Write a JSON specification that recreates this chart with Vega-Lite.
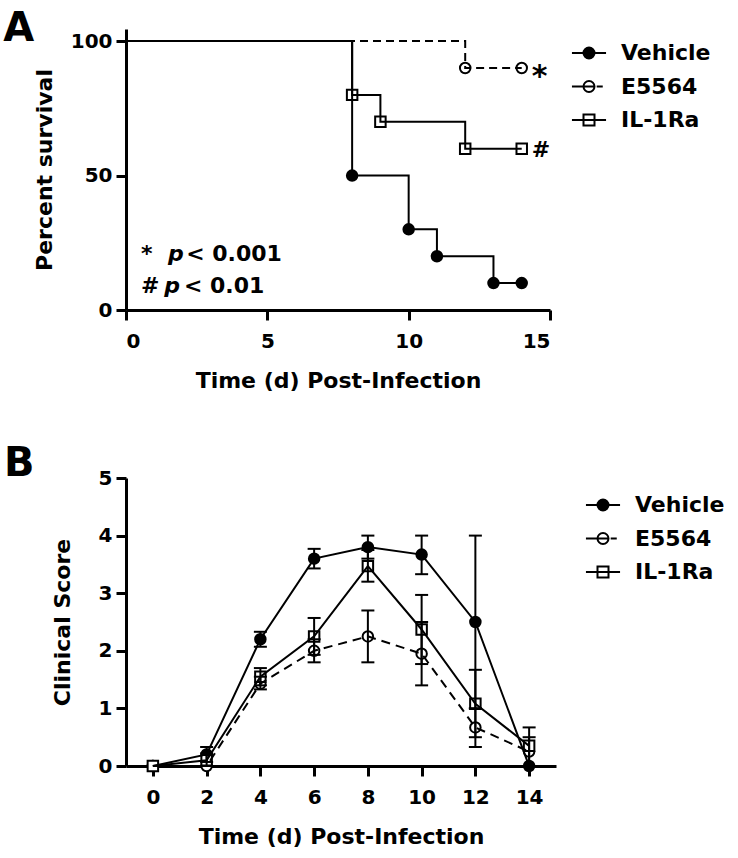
{
  "$schema": "https://vega.github.io/schema/vega-lite/v6.json",
  "background": "white",
  "padding": {"left": 3, "top": 9, "right": 5, "bottom": 5},
  "config": {
    "view": {"stroke": null},
    "font": "DejaVu Sans",
    "axis": {
      "grid": false,
      "domainColor": "black",
      "domainWidth": 3,
      "tickColor": "black",
      "tickWidth": 3,
      "tickSize": 10,
      "labelFont": "DejaVu Sans",
      "labelFontWeight": "bold",
      "labelFontSize": 20,
      "labelColor": "black",
      "labelPadding": 4,
      "titleFont": "DejaVu Sans",
      "titleFontWeight": "bold",
      "titleFontSize": 22,
      "titleColor": "black"
    },
    "axisX": {"labelPadding": 11, "titlePadding": 19},
    "legend": {
      "title": null,
      "orient": "none",
      "padding": 0,
      "symbolSize": 121,
      "symbolStrokeColor": "black",
      "symbolStrokeWidth": 2,
      "symbolOpacity": 1,
      "labelFont": "DejaVu Sans",
      "labelFontWeight": "bold",
      "labelFontSize": 22,
      "labelColor": "black",
      "labelOffset": 21,
      "rowPadding": 11.5
    },
    "title": {"font": "DejaVu Sans", "fontWeight": "bold", "fontSize": 40, "color": "black", "anchor": "start", "frame": "bounds", "offset": 0}
  },
  "spacing": 53,
  "resolve": {
    "scale": {"shape": "independent", "fill": "independent", "stroke": "independent"},
    "legend": {"shape": "independent", "fill": "independent", "stroke": "independent"}
  },
  "vconcat": [
    {
      "width": 424,
      "height": 281,
      "title": {"text": "A", "dx": -30, "dy": 24},
      "data": {"values": [
        {"series": "Vehicle", "t": 0, "s": 100},
        {"series": "Vehicle", "t": 8, "s": 50},
        {"series": "Vehicle", "t": 10, "s": 30},
        {"series": "Vehicle", "t": 11, "s": 20},
        {"series": "Vehicle", "t": 13, "s": 10},
        {"series": "Vehicle", "t": 14, "s": 10},
        {"series": "E5564", "t": 0, "s": 100},
        {"series": "E5564", "t": 12, "s": 90},
        {"series": "E5564", "t": 14, "s": 90},
        {"series": "IL-1Ra", "t": 0, "s": 100},
        {"series": "IL-1Ra", "t": 8, "s": 80},
        {"series": "IL-1Ra", "t": 9, "s": 70},
        {"series": "IL-1Ra", "t": 12, "s": 60},
        {"series": "IL-1Ra", "t": 14, "s": 60}
      ]},
      "encoding": {
        "x": {"field": "t", "type": "quantitative", "scale": {"domain": [0, 15], "nice": false}, "axis": {"values": [0, 5, 10, 15], "format": "d", "title": "Time (d) Post-Infection"}},
        "y": {"field": "s", "type": "quantitative", "scale": {"domain": [0, 104.5], "nice": false}, "axis": {"values": [0, 50, 100], "format": "d", "title": "Percent survival", "titlePadding": 14}}
      },
      "layer": [
        {
          "transform": [{"filter": "datum.t > 0 && datum.series === 'Vehicle'"}],
          "mark": {"type": "point", "shape": "circle", "filled": true, "size": 110, "fill": "black", "stroke": "black", "strokeWidth": 2, "opacity": 1}
        },
        {
          "transform": [{"filter": "datum.t > 0 && datum.series === 'E5564'"}],
          "mark": {"type": "point", "shape": "circle", "filled": true, "size": 110, "fill": "white", "stroke": "black", "strokeWidth": 2, "opacity": 1}
        },
        {
          "transform": [{"filter": "datum.t > 0 && datum.series === 'IL-1Ra'"}],
          "mark": {"type": "point", "shape": "square", "filled": true, "size": 110, "fill": "white", "stroke": "black", "strokeWidth": 2, "opacity": 1}
        },
        {
          "transform": [{"filter": "datum.series !== 'E5564'"}],
          "mark": {"type": "line", "interpolate": "step-after", "color": "black", "strokeWidth": 2},
          "encoding": {"detail": {"field": "series"}}
        },
        {
          "transform": [{"filter": "datum.series === 'E5564'"}],
          "mark": {"type": "line", "interpolate": "step-after", "color": "black", "strokeWidth": 2, "strokeDash": [8, 5]}
        },
        {
          "mark": {"type": "point", "filled": true, "size": 121, "strokeWidth": 2, "opacity": 0},
          "encoding": {
            "shape": {"field": "series", "type": "nominal", "scale": {"domain": ["Vehicle", "E5564", "IL-1Ra"], "range": [
              "M-3.1,0H3.1M1,0A1,1 0 1,1 -1,0A1,1 0 1,1 1,0Z",
              "M-3.1,0H-1.1M-1,0H1M1.4,0H2.5M1,0A1,1 0 1,1 -1,0A1,1 0 1,1 1,0Z",
              "M-3.1,0H3.1M-1,-1H1V1H-1Z"]},
              "legend": {"legendX": 452, "legendY": 13}},
            "fill": {"field": "series", "type": "nominal", "scale": {"domain": ["Vehicle", "E5564", "IL-1Ra"], "range": ["black", "white", "white"]},
              "legend": {"legendX": 452, "legendY": 13}},
            "stroke": {"field": "series", "type": "nominal", "scale": {"domain": ["Vehicle", "E5564", "IL-1Ra"], "range": ["black", "black", "black"]},
              "legend": {"legendX": 452, "legendY": 13}}
          }
        },
        {
          "data": {"values": [{"label": "*", "t": 14.35, "s": 89.6}]},
          "mark": {"type": "text", "align": "left", "baseline": "alphabetic", "dy": 17, "fontSize": 30, "fontWeight": "bold", "color": "black"},
          "encoding": {"text": {"field": "label"}}
        },
        {
          "data": {"values": [{"label": "#", "t": 14.35, "s": 59.9}]},
          "mark": {"type": "text", "align": "left", "baseline": "alphabetic", "dy": 8, "fontSize": 22, "fontWeight": "bold", "color": "black"},
          "encoding": {"text": {"field": "label"}}
        },
        {
          "data": {"values": [
            {"label": "*", "t": 0.53, "s": 18.3},
            {"label": "< 0.001", "t": 2.13, "s": 18.3},
            {"label": "#", "t": 0.53, "s": 6.3},
            {"label": "< 0.01", "t": 2.05, "s": 6.3}
          ]},
          "mark": {"type": "text", "align": "left", "baseline": "alphabetic", "fontSize": 22, "fontWeight": "bold", "color": "black"},
          "encoding": {"text": {"field": "label"}}
        },
        {
          "data": {"values": [
            {"label": "p", "t": 1.49, "s": 18.3},
            {"label": "p", "t": 1.35, "s": 6.3}
          ]},
          "mark": {"type": "text", "align": "left", "baseline": "alphabetic", "fontSize": 22, "fontWeight": "bold", "fontStyle": "italic", "color": "black"},
          "encoding": {"text": {"field": "label"}}
        }
      ]
    },
    {
      "width": 430,
      "height": 288,
      "title": {"text": "B", "dx": -47, "dy": 20},
      "data": {"values": [
        {"series": "Vehicle", "t": 0, "m": 0, "lo": 0, "hi": 0},
        {"series": "Vehicle", "t": 2, "m": 0.2, "lo": 0.07, "hi": 0.33},
        {"series": "Vehicle", "t": 4, "m": 2.2, "lo": 2.07, "hi": 2.33},
        {"series": "Vehicle", "t": 6, "m": 3.6, "lo": 3.43, "hi": 3.77},
        {"series": "Vehicle", "t": 8, "m": 3.8, "lo": 3.6, "hi": 4.0},
        {"series": "Vehicle", "t": 10, "m": 3.67, "lo": 3.33, "hi": 4.0},
        {"series": "Vehicle", "t": 12, "m": 2.5, "lo": 1.0, "hi": 4.0},
        {"series": "Vehicle", "t": 14, "m": 0, "lo": 0, "hi": 0},
        {"series": "E5564", "t": 0, "m": 0, "lo": 0, "hi": 0},
        {"series": "E5564", "t": 2, "m": 0, "lo": 0, "hi": 0},
        {"series": "E5564", "t": 4, "m": 1.43, "lo": 1.33, "hi": 1.55},
        {"series": "E5564", "t": 6, "m": 2.0, "lo": 1.8, "hi": 2.2},
        {"series": "E5564", "t": 8, "m": 2.25, "lo": 1.8, "hi": 2.7},
        {"series": "E5564", "t": 10, "m": 1.95, "lo": 1.4, "hi": 2.5},
        {"series": "E5564", "t": 12, "m": 0.67, "lo": 0.33, "hi": 1.0},
        {"series": "E5564", "t": 14, "m": 0.25, "lo": 0.0, "hi": 0.5},
        {"series": "IL-1Ra", "t": 0, "m": 0, "lo": 0, "hi": 0},
        {"series": "IL-1Ra", "t": 2, "m": 0.1, "lo": 0.0, "hi": 0.22},
        {"series": "IL-1Ra", "t": 4, "m": 1.55, "lo": 1.4, "hi": 1.7},
        {"series": "IL-1Ra", "t": 6, "m": 2.25, "lo": 1.93, "hi": 2.57},
        {"series": "IL-1Ra", "t": 8, "m": 3.47, "lo": 3.2, "hi": 3.75},
        {"series": "IL-1Ra", "t": 10, "m": 2.37, "lo": 1.77, "hi": 2.97},
        {"series": "IL-1Ra", "t": 12, "m": 1.08, "lo": 0.5, "hi": 1.67},
        {"series": "IL-1Ra", "t": 14, "m": 0.35, "lo": 0.0, "hi": 0.67}
      ]},
      "encoding": {
        "x": {"field": "t", "type": "quantitative", "scale": {"domain": [-1, 15], "nice": false}, "axis": {"values": [0, 2, 4, 6, 8, 10, 12, 14], "format": "d", "title": "Time (d) Post-Infection"}},
        "y": {"field": "m", "type": "quantitative", "scale": {"domain": [0, 5], "nice": false}, "axis": {"values": [0, 1, 2, 3, 4, 5], "format": "d", "title": "Clinical Score", "titlePadding": 24}}
      },
      "layer": [
        {
          "transform": [{"filter": "datum.series === 'Vehicle'"}],
          "mark": {"type": "point", "shape": "circle", "filled": true, "size": 110, "fill": "black", "stroke": "black", "strokeWidth": 2, "opacity": 1}
        },
        {
          "transform": [{"filter": "datum.series === 'E5564'"}],
          "mark": {"type": "point", "shape": "circle", "filled": true, "size": 110, "fill": "white", "stroke": "black", "strokeWidth": 2, "opacity": 1}
        },
        {
          "transform": [{"filter": "datum.series === 'IL-1Ra'"}],
          "mark": {"type": "point", "shape": "square", "filled": true, "size": 110, "fill": "white", "stroke": "black", "strokeWidth": 2, "opacity": 1}
        },
        {
          "transform": [{"filter": "datum.series !== 'E5564'"}],
          "mark": {"type": "line", "color": "black", "strokeWidth": 2},
          "encoding": {"detail": {"field": "series"}}
        },
        {
          "transform": [{"filter": "datum.series === 'E5564'"}],
          "mark": {"type": "line", "color": "black", "strokeWidth": 2, "strokeDash": [9, 6]}
        },
        {
          "transform": [{"filter": "datum.hi > datum.lo"}],
          "mark": {"type": "rule", "color": "black", "strokeWidth": 2},
          "encoding": {
            "y": {"field": "lo", "type": "quantitative"},
            "y2": {"field": "hi"}
          }
        },
        {
          "transform": [{"filter": "datum.hi > datum.lo"}],
          "mark": {"type": "tick", "orient": "horizontal", "color": "black", "size": 13, "thickness": 2, "opacity": 1},
          "encoding": {"y": {"field": "lo", "type": "quantitative"}}
        },
        {
          "transform": [{"filter": "datum.hi > datum.lo"}],
          "mark": {"type": "tick", "orient": "horizontal", "color": "black", "size": 13, "thickness": 2, "opacity": 1},
          "encoding": {"y": {"field": "hi", "type": "quantitative"}}
        },
        {
          "mark": {"type": "point", "filled": true, "size": 121, "strokeWidth": 2, "opacity": 0},
          "encoding": {
            "shape": {"field": "series", "type": "nominal", "scale": {"domain": ["Vehicle", "E5564", "IL-1Ra"], "range": [
              "M-3.1,0H3.1M1,0A1,1 0 1,1 -1,0A1,1 0 1,1 1,0Z",
              "M-3.1,0H-1.1M-1,0H1M1.4,0H2.5M1,0A1,1 0 1,1 -1,0A1,1 0 1,1 1,0Z",
              "M-3.1,0H3.1M-1,-1H1V1H-1Z"]},
              "legend": {"legendX": 466, "legendY": 16}},
            "fill": {"field": "series", "type": "nominal", "scale": {"domain": ["Vehicle", "E5564", "IL-1Ra"], "range": ["black", "white", "white"]},
              "legend": {"legendX": 466, "legendY": 16}},
            "stroke": {"field": "series", "type": "nominal", "scale": {"domain": ["Vehicle", "E5564", "IL-1Ra"], "range": ["black", "black", "black"]},
              "legend": {"legendX": 466, "legendY": 16}}
          }
        }
      ]
    }
  ]
}
